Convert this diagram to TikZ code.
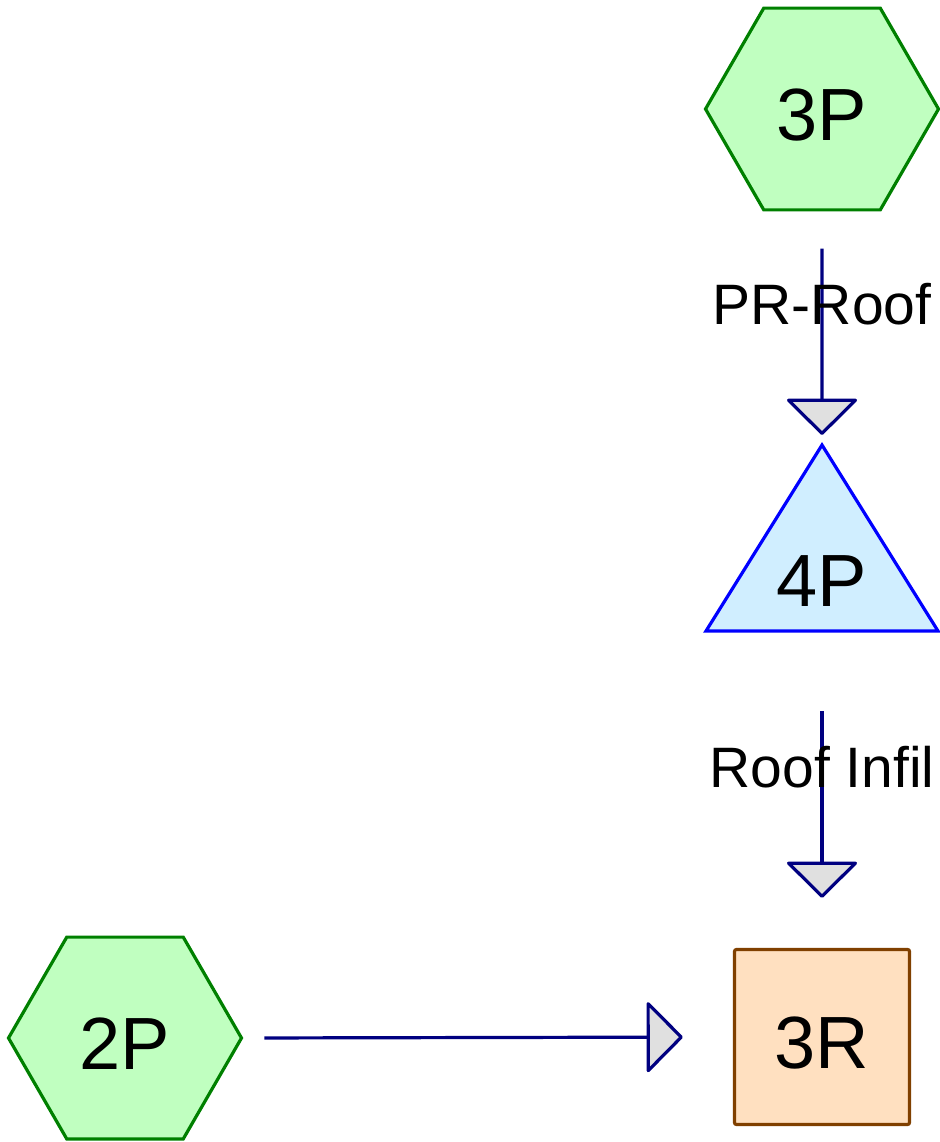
\documentclass[tikz,border=0pt]{standalone}
\usepackage{fontspec}
\setmainfont{Liberation Sans}
\usetikzlibrary{shapes.geometric,arrows.meta}
\definecolor{hexfill}{HTML}{C0FFC0}
\definecolor{hexline}{HTML}{008000}
\definecolor{trifill}{HTML}{D0EEFF}
\definecolor{triline}{HTML}{0000FF}
\definecolor{boxfill}{HTML}{FFE0C0}
\definecolor{boxline}{HTML}{804000}
\definecolor{conline}{HTML}{000080}
\definecolor{tipfill}{HTML}{E0E0E0}
\begin{document}
\begin{tikzpicture}[x=1pt,y=-1pt,
  hexnode/.style={regular polygon, regular polygon sides=6, minimum size=233pt, inner sep=0pt,
    draw=hexline, fill=hexfill, line width=3.2pt, font=\fontsize{74}{88}\selectfont, text height=63pt, text depth=0pt},
  boxnode/.style={rectangle, minimum size=175pt, inner sep=0pt, rounded corners=2pt,
    draw=boxline, fill=boxfill, line width=3.2pt, font=\fontsize{74}{88}\selectfont, text height=63pt, text depth=0pt},
  bignum/.style={font=\fontsize{74}{88}\selectfont, inner sep=0pt},
  conn/.style={draw=conline, line width=3.2pt, line join=round,
    -{Triangle[length=37pt, width=74pt, fill=tipfill, line join=round]}},
  lbl/.style={font=\fontsize{57}{68}\selectfont, inner sep=0pt, text height=40pt, text depth=0pt}]
\useasboundingbox (0,0) rectangle (939,1142);
\node[hexnode] (3P) at (822,109) {3P};
\node[hexnode] (2P) at (125,1038) {2P};
\node[boxnode] (3R) at (822,1037) {3R};
% 4P triangle
\coordinate (4Papex) at (822,445);
\coordinate (4Pbase) at (822,631);
\draw[draw=triline, fill=trifill, line width=3.2pt, line join=miter] (706,631) -- (4Papex) -- (938,631) -- cycle;
\node[bignum, text height=52pt, text depth=0pt] (4P) at (822,580) {4P};
% connectors
\draw[conn, shorten <=37pt, shorten >=10pt] (3P.south) -- node[lbl, pos=0.40] (l1) {PR-Roof} (4Papex);
\draw[conn, shorten <=80pt, shorten >=50pt] (4Pbase) -- node[lbl, pos=0.43] (l2) {Roof Infil} (3R.north);
\draw[conn, shorten <=21pt, shorten >=50pt] (2P.east) -- (3R.west);
\end{tikzpicture}
\end{document}
